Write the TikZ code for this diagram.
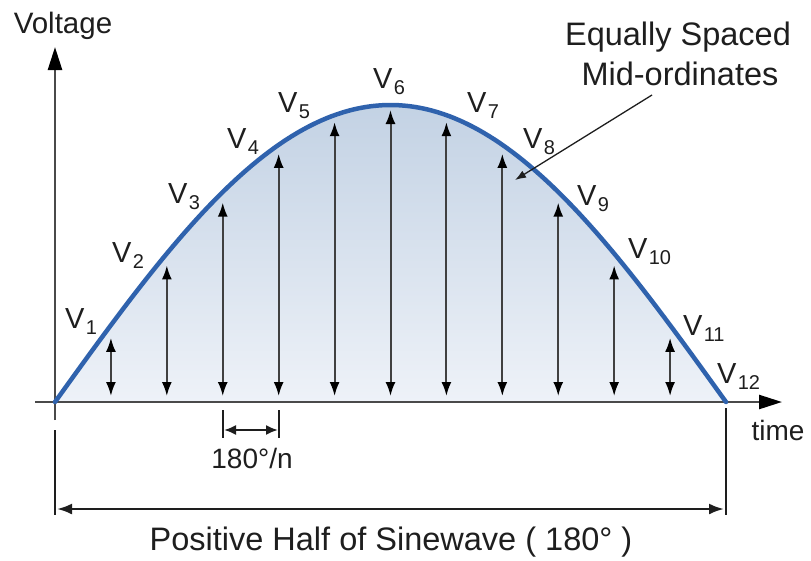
\documentclass[tikz,border=0pt]{standalone}
\usepackage{fontspec}
\setmainfont{Liberation Sans}
\usetikzlibrary{arrows.meta}
\definecolor{curveblue}{HTML}{2F62AD}
\definecolor{filltop}{HTML}{C3D2E4}
\definecolor{fillbot}{HTML}{EEF2F8}
\definecolor{axisgray}{HTML}{4A4A4A}
\definecolor{ink}{HTML}{1E1E1E}
\newcommand\Vlab[1]{V\kern1.5pt\raisebox{-6pt}{\fontsize{20}{22}\selectfont #1}}
\tikzset{
  txt/.style={inner sep=0pt, outer sep=0pt, text=ink},
  vlab/.style={txt, anchor=base west, font=\fontsize{29}{32}\selectfont},
  axisline/.style={draw=axisgray, line width=2.5pt, -{Triangle[length=23pt,width=14pt,color=black]}},
  ordinate/.style={draw=ink!85, line width=2pt, {Latex[length=14pt,width=10pt,color=black]}-{Latex[length=14pt,width=10pt,color=black]}},
  dimline/.style={draw=ink, line width=2pt},
  dimarrow/.style={draw=ink, line width=2.4pt, {Latex[length=15pt,width=11pt]}-{Latex[length=15pt,width=11pt]}},
  smallarrow/.style={draw=ink, line width=2pt, {Latex[length=12pt,width=10pt]}-{Latex[length=12pt,width=10pt]}},
  pointer/.style={draw=ink, line width=1.3pt, -{Latex[length=11pt,width=8pt]}},
  wave/.style={draw=curveblue, line width=4.5pt, line cap=round, line join=round}
}
\begin{document}
\begin{tikzpicture}[x=1pt,y=-1pt]
\useasboundingbox (0,0) rectangle (811,560);
% fill under curve
\fill[top color=filltop, bottom color=fillbot]
  (55,402) -- plot[domain=0:180, samples=120] ({55+3.727778*\x}, {402-297*sin(\x)}) -- cycle;
% axes
\coordinate (xa0) at (35,402);
\coordinate (xa1) at (782,402);
\coordinate (ya0) at (55,420);
\coordinate (ya1) at (55,47);
\draw[axisline] (xa0) -- (xa1);
\draw[axisline] (ya0) -- (ya1);
% ordinates
\foreach \k in {1,...,11}{
  \pgfmathsetmacro{\xx}{55+55.91667*\k}
  \pgfmathsetmacro{\yt}{402-297*sin(15*\k)+5+8*abs(cos(15*\k))}
  \coordinate (o\k b) at (\xx,396);
  \coordinate (o\k t) at (\xx,\yt);
  \draw[ordinate] (o\k b) -- (o\k t);
}
% curve
\draw[wave] plot[domain=0:180, samples=120] ({55+3.727778*\x}, {402-297*sin(\x)});
% labels V
\node[vlab] (v1) at (65,328) {\Vlab{1}};
\node[vlab] (v2) at (112,262) {\Vlab{2}};
\node[vlab] (v3) at (168,203) {\Vlab{3}};
\node[vlab] (v4) at (227,148) {\Vlab{4}};
\node[vlab] (v5) at (278,112) {\Vlab{5}};
\node[vlab] (v6) at (373,88) {\Vlab{6}};
\node[vlab] (v7) at (467,112) {\Vlab{7}};
\node[vlab] (v8) at (523,148) {\Vlab{8}};
\node[vlab] (v9) at (577,205) {\Vlab{9}};
\node[vlab] (v10) at (628,258) {\Vlab{10}};
\node[vlab] (v11) at (683,335) {\Vlab{11}};
\node[vlab] (v12) at (717,383) {\Vlab{12}};
% axis titles
\node[txt, anchor=base, font=\fontsize{29.5}{32}\selectfont] (volt) at (63,33) {Voltage};
\node[txt, anchor=base, font=\fontsize{28}{30}\selectfont] (time) at (778,440) {time};
% small dimension
\coordinate (d1a) at (223,410); \coordinate (d1b) at (223,438);
\coordinate (d2a) at (279,410); \coordinate (d2b) at (279,438);
\coordinate (s0) at (224,430); \coordinate (s1) at (278,430);
\draw[dimline] (d1a) -- (d1b);
\draw[dimline] (d2a) -- (d2b);
\draw[smallarrow] (s0) -- (s1);
\node[txt, anchor=base, font=\fontsize{28}{30}\selectfont] (stepl) at (252,468) {180°/n};
% big dimension
\coordinate (L0) at (55,430); \coordinate (L1) at (55,515);
\coordinate (R0) at (726,408); \coordinate (R1) at (726,515);
\coordinate (B0) at (57,509); \coordinate (B1) at (724,509);
\draw[dimline] (L0) -- (L1);
\draw[dimline] (R0) -- (R1);
\draw[dimarrow] (B0) -- (B1);
\node[txt, anchor=base, font=\fontsize{32.5}{36}\selectfont] (half) at (391,550) {Positive Half of Sinewave ( 180° )};
% annotation
\node[txt, anchor=base, font=\fontsize{32.5}{36}\selectfont] (eq) at (678,45) {Equally Spaced};
\node[txt, anchor=base, font=\fontsize{32.5}{36}\selectfont] (mid) at (680,85) {Mid-ordinates};
\coordinate (p0) at (652,95);
\coordinate (p1) at (515,180);
\draw[pointer] (p0) -- (p1);
\end{tikzpicture}
\end{document}
